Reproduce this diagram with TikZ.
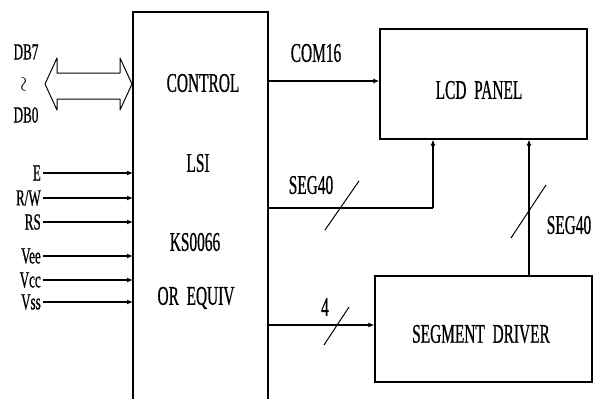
\documentclass[tikz,border=0pt]{standalone}
\usepackage{fontspec}
\newfontfamily\lcdfont[FakeStretch=0.57,FakeBold=0.6,WordSpace=2]{Liberation Serif}
\usetikzlibrary{arrows.meta}
\tikzset{
  wire/.style={line width=1.2pt},
  arr/.style={wire,-{Latex[length=6pt,width=5pt]}},
  blk/.style={draw,line width=1.2pt,minimum width=0pt,minimum height=0pt,inner sep=0pt},
  lbl/.style={font=\lcdfont\fontsize{27}{27}\selectfont,inner sep=0pt},
  sml/.style={font=\lcdfont\fontsize{23}{23}\selectfont,inner sep=0pt},
  slash/.style={line width=1pt}
}
\begin{document}
\begin{tikzpicture}[x=1pt,y=-1pt]
\useasboundingbox (0,0) rectangle (595,399);
% control box (open at bottom)
\coordinate (cbl) at (133,399);
\coordinate (ctl) at (133,12);
\coordinate (ctr) at (268,12);
\coordinate (cbr) at (268,399);
\draw[wire] (cbl) -- (ctl) -- (ctr) -- (cbr);
\node[lbl] (t1) at (203,83) {CONTROL};
\node[lbl] (t2) at (198,163) {LSI};
\node[lbl] (t3) at (195,242) {KS0066};
\node[lbl] (t4) at (196,298) {OR EQUIV};
% LCD panel
\node[blk,minimum width=207pt,minimum height=110pt] (lcd) at (483.5,84) {};
\node[lbl] (lcdt) at (479,90) {LCD PANEL};
% segment driver
\node[blk,minimum width=217pt,minimum height=106pt] (drv) at (483.5,329) {};
\node[lbl] (drvt) at (481,334) {SEGMENT DRIVER};
% COM16
\coordinate (c1) at (268,81);
\draw[arr] (c1) -- (c1 -| lcd.west);
\node[lbl] (com) at (316,53) {COM16};
% SEG40 from control
\coordinate (s1) at (268,208);
\coordinate (s2) at (433,208);
\draw[wire] (s1) -- (s2);
\draw[arr] (s2) -- (s2 |- lcd.south);
\coordinate (sl1a) at (325,230);
\coordinate (sl1b) at (359,181);
\draw[slash] (sl1a) -- (sl1b);
\node[lbl] (seg1) at (311,185) {SEG40};
% SEG40 from driver
\coordinate (d1) at (529,276);
\draw[arr] (d1) -- (d1 |- lcd.south);
\coordinate (sl2a) at (511,238);
\coordinate (sl2b) at (546,185);
\draw[slash] (sl2a) -- (sl2b);
\node[lbl] (seg2) at (569,225) {SEG40};
% 4 bus
\coordinate (f1) at (268,325);
\draw[arr] (f1) -- (f1 -| drv.west);
\coordinate (sl3a) at (324,345);
\coordinate (sl3b) at (349,307);
\draw[slash] (sl3a) -- (sl3b);
\node[lbl] (four) at (325,307) {4};
% data bus double arrow
\draw[line width=1pt,line join=round] (45,84) -- (57,58) -- (57,73) -- (120,73) -- (120,58) -- (132,84) -- (120,110) -- (120,99) -- (57,99) -- (57,110) -- cycle;
\node[sml] (db7) at (26,52) {DB7};
\node[font=\fontsize{20}{20}\selectfont,inner sep=0pt,rotate=90] (tld) at (25,84) {$\sim$};
\node[sml] (db0) at (26,115) {DB0};
% control inputs
\foreach \nm/\txt/\yy in {e/E/173, rw/{R/W}/198, rs/RS/222, vee/Vee/256, vcc/Vcc/280, vss/Vss/302} {
  \node[sml,anchor=east] (\nm) at (41,\yy) {\txt};
  \coordinate (\nm t) at (133,\yy);
  \draw[arr] (\nm.east) ++(2,0) -- (\nm t);
}
\end{tikzpicture}
\end{document}
